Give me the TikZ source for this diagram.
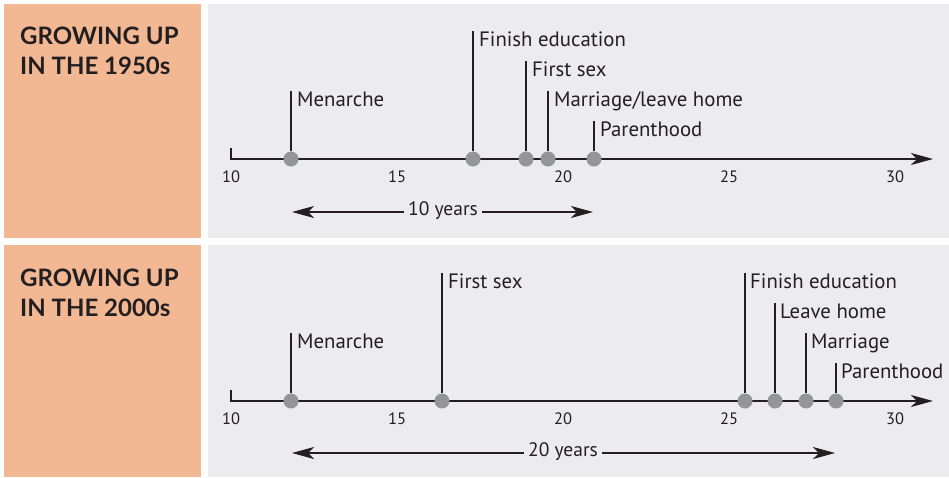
\documentclass[tikz,border=0pt]{standalone}
\usepackage{fontspec}
\setmainfont{PT Sans}
\newfontfamily\titlefont{Lato}
\usetikzlibrary{arrows.meta, positioning}

\definecolor{panelorange}{HTML}{F2B793}
\definecolor{panelgray}{HTML}{ECECEE}
\definecolor{dotgray}{HTML}{939598}
\definecolor{inkdark}{HTML}{231F20}

\tikzset{
  event/.style={circle, fill=dotgray, inner sep=0pt, minimum size=15pt},
  evlabel/.style={inner sep=0pt, text=inkdark, font=\fontsize{20.8}{24}\selectfont},
  ticklabel/.style={inner sep=0pt, text=inkdark, font=\fontsize{16.5}{19}\selectfont},
  spanlabel/.style={inner sep=4pt, text=inkdark, font=\fontsize{19.5}{22}\selectfont},
  titletext/.style={inner sep=0pt, align=left, text=inkdark, font=\titlefont\bfseries\fontsize{24}{30}\selectfont},
  axisline/.style={draw=inkdark, line width=1.4pt},
  spanline/.style={draw=inkdark, line width=1.1pt}
}

\begin{document}
\begin{tikzpicture}[x=1pt, y=-1pt, >={Stealth[length=22pt, width=12pt, inset=6pt]}]

    % Panels
    \useasboundingbox (0,0) rectangle (949,477);
    \fill[white] (0,0) rectangle (949,477);
    \fill[panelorange] (4,4) rectangle (201,238);
    \fill[panelgray] (208,4) rectangle (949,238);
    \fill[panelorange] (4,245) rectangle (201,477);
    \fill[panelgray] (208,245) rectangle (949,477);

    % Titles
    \node[titletext, anchor=base west] (title1) at (20,74) {GROWING UP\\IN THE 1950s};
    \node[titletext, anchor=base west] (title2) at (20,316) {GROWING UP\\IN THE 2000s};

    % Axes
    \coordinate (o1) at (231,159);
    \coordinate (e1) at (933,159);
    \coordinate (o2) at (231,401);
    \coordinate (e2) at (933,401);
    \draw[axisline, ->] (231,148) -- (o1) -- (e1);
    \draw[axisline, ->] (231,390) -- (o2) -- (e2);
    \foreach \v/\x in {10/231, 15/397, 20/563, 25/729, 30/895} {
        \node[ticklabel, anchor=base] at (\x,182) {\v};
        \node[ticklabel, anchor=base] at (\x,424) {\v};
    }

    % Events 1950s
    \node[event] (m1) at (291,159) {};
    \node[event] (m2) at (473,159) {};
    \node[event] (m3) at (526,159) {};
    \node[event] (m4) at (548,159) {};
    \node[event] (m5) at (594,159) {};
    \coordinate (m1t) at (291,91);
    \coordinate (m2t) at (473,31);
    \coordinate (m3t) at (526,61);
    \coordinate (m4t) at (548,91);
    \coordinate (m5t) at (594,121);
    \node[evlabel, below right=15pt and 6pt of m1t, anchor=base west] (m1l) {Menarche};
    \node[evlabel, below right=15pt and 6pt of m2t, anchor=base west] (m2l) {Finish education};
    \node[evlabel, below right=15pt and 6pt of m3t, anchor=base west] (m3l) {First sex};
    \node[evlabel, below right=15pt and 6pt of m4t, anchor=base west] (m4l) {Marriage/leave home};
    \node[evlabel, below right=15pt and 6pt of m5t, anchor=base west] (m5l) {Parenthood};
    \draw[axisline] (m1) -- (m1t);
    \draw[axisline] (m2) -- (m2t);
    \draw[axisline] (m3) -- (m3t);
    \draw[axisline] (m4) -- (m4t);
    \draw[axisline] (m5) -- (m5t);

    % Events 2000s
    \node[event] (n1) at (291,401) {};
    \node[event] (n2) at (442,401) {};
    \node[event] (n3) at (745,401) {};
    \node[event] (n4) at (775,401) {};
    \node[event] (n5) at (806,401) {};
    \node[event] (n6) at (836,401) {};
    \coordinate (n1t) at (291,333);
    \coordinate (n2t) at (442,273);
    \coordinate (n3t) at (745,273);
    \coordinate (n4t) at (775,303);
    \coordinate (n5t) at (806,333);
    \coordinate (n6t) at (836,363);
    \node[evlabel, below right=15pt and 6pt of n1t, anchor=base west] (n1l) {Menarche};
    \node[evlabel, below right=15pt and 6pt of n2t, anchor=base west] (n2l) {First sex};
    \node[evlabel, below right=15pt and 5pt of n3t, anchor=base west] (n3l) {Finish education};
    \node[evlabel, below right=15pt and 5pt of n4t, anchor=base west] (n4l) {Leave home};
    \node[evlabel, below right=15pt and 5pt of n5t, anchor=base west] (n5l) {Marriage};
    \node[evlabel, below right=15pt and 5pt of n6t, anchor=base west] (n6l) {Parenthood};
    \draw[axisline] (n1) -- (n1t);
    \draw[axisline] (n2) -- (n2t);
    \draw[axisline] (n3) -- (n3t);
    \draw[axisline] (n4) -- (n4t);
    \draw[axisline] (n5) -- (n5t);
    \draw[axisline] (n6) -- (n6t);

    % Spans
    \node[spanlabel] (span1) at (443,211) {10 years};
    \coordinate (span1a) at (292,212);
    \coordinate (span1b) at (593,212);
    \draw[spanline, ->] (span1.west |- span1a) -- (span1a);
    \draw[spanline, ->] (span1.east |- span1b) -- (span1b);

    \node[spanlabel] (span2) at (563,452) {20 years};
    \coordinate (span2a) at (292,453);
    \coordinate (span2b) at (835,453);
    \draw[spanline, ->] (span2.west |- span2a) -- (span2a);
    \draw[spanline, ->] (span2.east |- span2b) -- (span2b);

\end{tikzpicture}
\end{document}
